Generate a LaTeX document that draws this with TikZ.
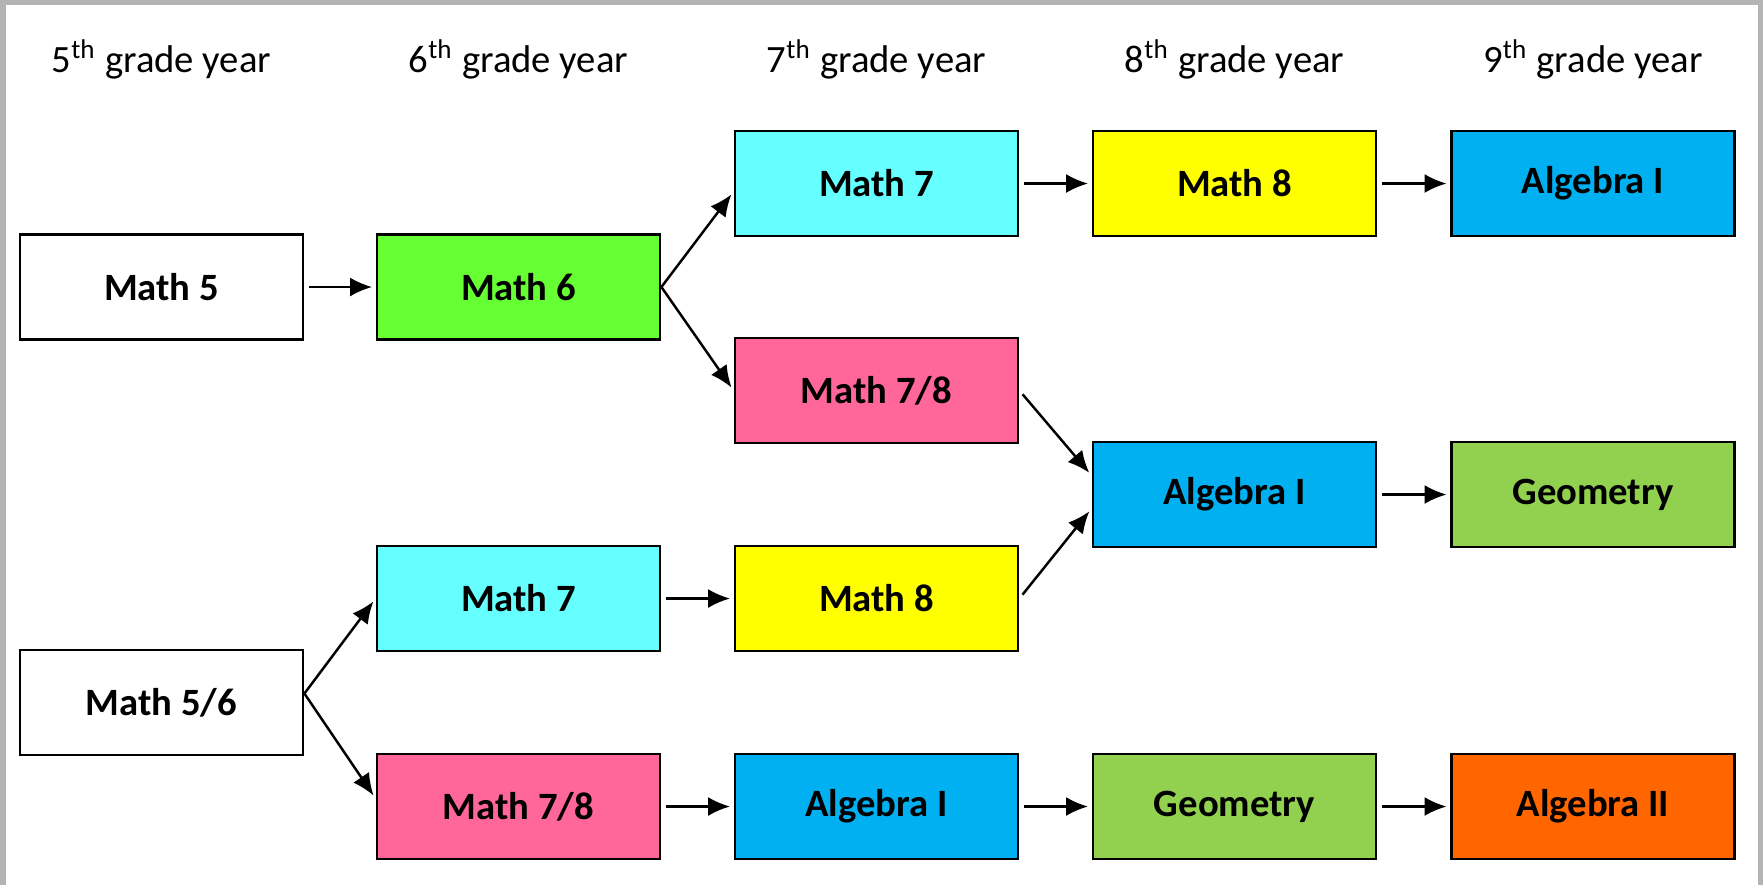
\documentclass[tikz,border=0pt]{standalone}
\usepackage{fontspec}
\setmainfont{Carlito}
\usetikzlibrary{arrows.meta}
\definecolor{framegrey}{HTML}{B4B4B4}
\definecolor{limegreen}{HTML}{66FF33}
\definecolor{skycyan}{HTML}{66FFFF}
\definecolor{brightyellow}{HTML}{FFFF00}
\definecolor{officeblue}{HTML}{00B0F0}
\definecolor{rosepink}{HTML}{FF6699}
\definecolor{leafgreen}{HTML}{92D050}
\definecolor{deeporange}{HTML}{FF6600}
\begin{document}
\begin{tikzpicture}[
  course/.style={draw, line width=0.8pt, minimum width=2.83cm, minimum height=1.05cm, inner sep=0pt, font=\fontsize{11}{13}\selectfont\bfseries},
  year/.style={font=\fontsize{11}{13}\selectfont, anchor=base},
  link/.style={-{Latex[length=2.2mm,width=1.9mm]}, line width=0.7pt, shorten <=1.4pt, shorten >=1pt},
  fork/.style={link, shorten <=0pt}]
% grey frame round the page
\fill[framegrey] (0,0) rectangle (17.63,-8.85);
\fill[white] (0.06,-0.05) rectangle (17.58,-8.85);
% year headings
\node[year] (y5) at (1.615,-0.72) {5\textsuperscript{th} grade year};
\node[year] (y6) at (5.185,-0.72) {6\textsuperscript{th} grade year};
\node[year] (y7) at (8.765,-0.72) {7\textsuperscript{th} grade year};
\node[year] (y8) at (12.345,-0.72) {8\textsuperscript{th} grade year};
\node[year] (y9) at (15.93,-0.72) {9\textsuperscript{th} grade year};
% upper track
\node[course,fill=white] (math5) at (1.615,-2.87) {Math 5};
\node[course,fill=limegreen] (math6) at (5.185,-2.87) {Math 6};
\node[course,fill=skycyan] (math7up) at (8.765,-1.835) {Math 7};
\node[course,fill=rosepink] (math78up) at (8.765,-3.905) {Math 7/8};
\node[course,fill=brightyellow] (math8up) at (12.345,-1.835) {Math 8};
\node[course,fill=officeblue] (alg8) at (12.345,-4.945) {Algebra I};
\node[course,fill=officeblue] (alg9) at (15.93,-1.835) {Algebra I};
\node[course,fill=leafgreen] (geo9) at (15.93,-4.945) {Geometry};
% lower track
\node[course,fill=white] (math56) at (1.615,-7.025) {Math 5/6};
\node[course,fill=skycyan] (math7lo) at (5.185,-5.985) {Math 7};
\node[course,fill=rosepink] (math78lo) at (5.185,-8.065) {Math 7/8};
\node[course,fill=brightyellow] (math8lo) at (8.765,-5.985) {Math 8};
\node[course,fill=officeblue] (alg7) at (8.765,-8.065) {Algebra I};
\node[course,fill=leafgreen] (geo8) at (12.345,-8.065) {Geometry};
\node[course,fill=deeporange] (alg2) at (15.93,-8.065) {Algebra II};
% arrows
\draw[link] (math5) -- (math6);
\draw[fork] (math6.east) -- ([yshift=-0.08cm]math7up.west);
\draw[fork] (math6.east) -- (math78up.west);
\draw[link] (math7up) -- (math8up);
\draw[link] (math8up) -- (alg9);
\draw[link] (math78up.east) -- ([yshift=0.19cm]alg8.west);
\draw[link] (math8lo.east) -- ([yshift=-0.14cm]alg8.west);
\draw[link] (alg8) -- (geo9);
\draw[fork] ([yshift=0.09cm]math56.east) -- (math7lo.west);
\draw[fork] ([yshift=0.09cm]math56.east) -- ([yshift=0.08cm]math78lo.west);
\draw[link] (math7lo) -- (math8lo);
\draw[link] (math78lo) -- (alg7);
\draw[link] (alg7) -- (geo8);
\draw[link] (geo8) -- (alg2);
\end{tikzpicture}
\end{document}
